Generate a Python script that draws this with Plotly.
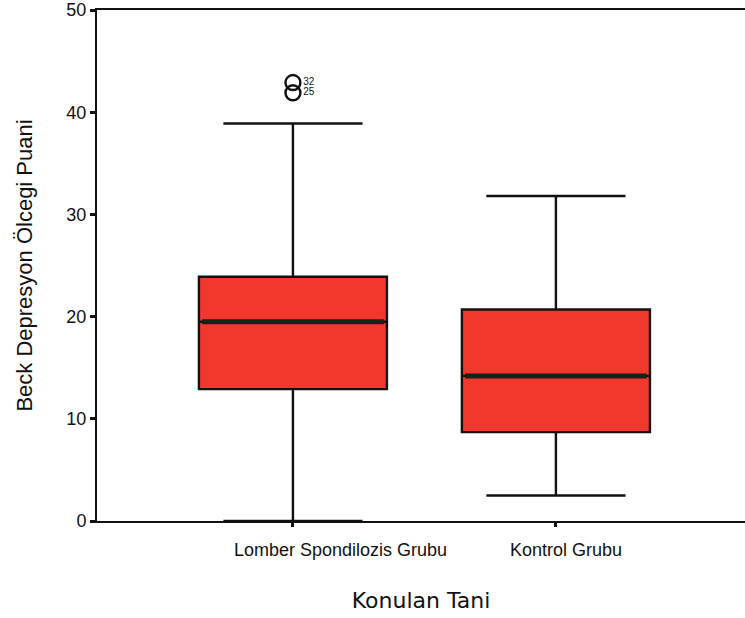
import plotly.graph_objects as go

categories = ["Lomber Spondilozis Grubu", "Kontrol Grubu"]
positions = [0, 1]
q1 = [12.9, 8.7]
median = [19.5, 14.2]
q3 = [23.9, 20.7]
lower_whisker = [0, 2.5]
upper_whisker = [38.9, 31.8]
outlier_values = [42.9, 41.9]
outlier_labels = ["32", "25"]
outlier_group = [0, 0]

yticks = [0, 10, 20, 30, 40, 50]
box_width = 0.715
box_fill = "#f2372c"
ink = "#111111"
font_main = "Arial, Liberation Sans, sans-serif"

fig = go.Figure()
fig.add_trace(go.Box(
    x=positions, q1=q1, median=median, q3=q3,
    lowerfence=lower_whisker, upperfence=upper_whisker,
    width=box_width, whiskerwidth=0.74,
    fillcolor=box_fill, line=dict(color=ink, width=2.4),
    boxpoints=False, hoverinfo="skip", showlegend=False,
))

# thick median lines
for p, m in zip(positions, median):
    fig.add_trace(go.Scatter(
        x=[p - box_width / 2 + 0.012, p + box_width / 2 - 0.012], y=[m, m],
        mode="lines", line=dict(color="#152219", width=5),
        showlegend=False, hoverinfo="skip",
    ))

# outliers
fig.add_trace(go.Scatter(
    x=[positions[g] for g in outlier_group], y=outlier_values,
    mode="markers+text",
    marker=dict(symbol="circle-open", size=15, color=ink, line=dict(width=2.4)),
    text=outlier_labels, textposition="middle right",
    textfont=dict(family=font_main, size=10, color=ink),
    showlegend=False, hoverinfo="skip",
))

# category labels
label_x = [0.179, 1.038]
for lx, c in zip(label_x, categories):
    fig.add_annotation(
        x=lx, xref="x", y=0, yref="paper", yanchor="middle", yshift=-29,
        text=c, showarrow=False,
        font=dict(family=font_main, size=18, color=ink),
    )

fig.update_layout(
    width=745, height=618,
    margin=dict(l=97, r=0, t=10, b=97),
    paper_bgcolor="white", plot_bgcolor="white",
    font=dict(family=font_main, color=ink),
    xaxis=dict(
        range=[-0.745, 1.719], tickvals=positions, ticktext=["", ""],
        ticks="outside", ticklen=4, tickwidth=3, tickcolor=ink,
        showline=True, linecolor=ink, linewidth=2, mirror=True,
        showgrid=False, zeroline=False,
        title=dict(text="Konulan Tani",
                   font=dict(family="DejaVu Sans, sans-serif", size=22),
                   standoff=64),
    ),
    yaxis=dict(
        range=[0, 50], tickvals=yticks,
        ticks="outside", ticklen=5, tickwidth=3, tickcolor=ink,
        tickfont=dict(size=18),
        showline=True, linecolor=ink, linewidth=2,
        showgrid=False, zeroline=False,
        title=dict(text="Beck Depresyon Ölcegi Puani", font=dict(size=22), standoff=28),
    ),
)

fig.write_html("out.html", config={"displayModeBar": False},
               post_script="document.body.style.margin='0';")
